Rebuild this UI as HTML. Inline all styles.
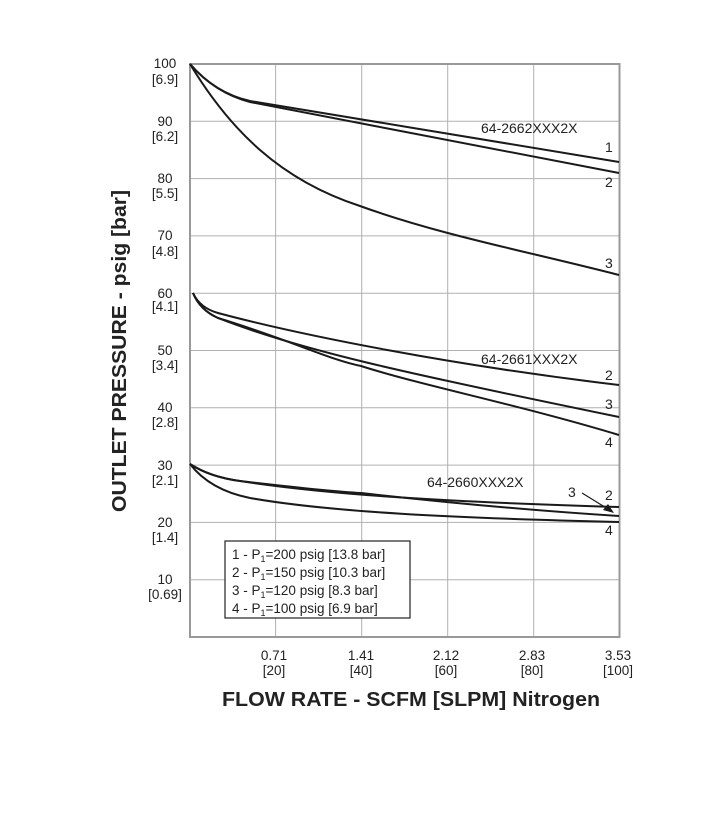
<!DOCTYPE html>
<html><head><style>
body{margin:0;background:#fff;}
svg text{font-family:"Liberation Sans",Arial,sans-serif;fill:#222;}
</style></head><body>
<svg width="712" height="833" viewBox="0 0 712 833" xmlns="http://www.w3.org/2000/svg">
<g stroke="#b0b0b0" stroke-width="1">
<line x1="275.6" y1="64" x2="275.6" y2="637"/>
<line x1="361.7" y1="64" x2="361.7" y2="637"/>
<line x1="447.7" y1="64" x2="447.7" y2="637"/>
<line x1="533.7" y1="64" x2="533.7" y2="637"/>
<line x1="190" y1="121.3" x2="619" y2="121.3"/>
<line x1="190" y1="178.6" x2="619" y2="178.6"/>
<line x1="190" y1="235.9" x2="619" y2="235.9"/>
<line x1="190" y1="293.2" x2="619" y2="293.2"/>
<line x1="190" y1="350.5" x2="619" y2="350.5"/>
<line x1="190" y1="407.8" x2="619" y2="407.8"/>
<line x1="190" y1="465.1" x2="619" y2="465.1"/>
<line x1="190" y1="522.4" x2="619" y2="522.4"/>
<line x1="190" y1="579.7" x2="619" y2="579.7"/>
</g>
<rect x="190" y="64" width="429.5" height="573" fill="none" stroke="#999" stroke-width="2"/>
<g fill="none" stroke="#1a1a1a" stroke-width="2">
<path d="M190,64 Q215,93 250,101 L619,162"/>
<path d="M190,64 Q215,93 250,102 L619,173"/>
<path d="M190,64 C230,130 280,180 360,206 C440,235 530,252 619,275"/>
<path d="M193,293 Q200,308 218,313 C300,335 450,365 619,385"/>
<path d="M193,293 Q200,310 218,318 C300,350 400,372 619,417"/>
<path d="M193,293 Q200,310 218,318 C290,340 330,360 361,366 C420,385 520,405 619,435"/>
<path d="M190,464 Q210,477 240,481 C330,495 450,502 619,507"/>
<path d="M190,464 Q210,477 240,481 C300,488 340,492 361,493 C450,503 540,511 619,516"/>
<path d="M190,464 Q210,490 250,498 C330,512 450,518 619,522"/>
</g>
<line x1="582" y1="493" x2="608" y2="509" stroke="#1a1a1a" stroke-width="1.2"/>
<polygon points="614,513 603,510 608,504" fill="#1a1a1a"/>
<g font-size="14">
<text x="481" y="133">64-2662XXX2X</text>
<text x="605" y="152">1</text><text x="605" y="187">2</text><text x="605" y="268">3</text>
<text x="481" y="364">64-2661XXX2X</text>
<text x="605" y="380">2</text><text x="605" y="409">3</text><text x="605" y="447">4</text>
<text x="427" y="487">64-2660XXX2X</text>
<text x="568" y="497">3</text><text x="605" y="500">2</text><text x="605" y="535">4</text>
</g>
<rect x="225" y="541" width="185" height="77" fill="#fff" stroke="#222" stroke-width="1.2"/>
<g font-size="13.5">
<text x="232" y="559">1 - P<tspan font-size="9" dy="3">1</tspan><tspan dy="-3">=200 psig [13.8 bar]</tspan></text>
<text x="232" y="577">2 - P<tspan font-size="9" dy="3">1</tspan><tspan dy="-3">=150 psig [10.3 bar]</tspan></text>
<text x="232" y="595">3 - P<tspan font-size="9" dy="3">1</tspan><tspan dy="-3">=120 psig [8.3 bar]</tspan></text>
<text x="232" y="613">4 - P<tspan font-size="9" dy="3">1</tspan><tspan dy="-3">=100 psig [6.9 bar]</tspan></text>
</g>
<g font-size="13.5" text-anchor="middle">
<text x="165" y="68">100</text><text x="165" y="84">[6.9]</text>
<text x="165" y="126">90</text><text x="165" y="141">[6.2]</text>
<text x="165" y="183">80</text><text x="165" y="198">[5.5]</text>
<text x="165" y="240">70</text><text x="165" y="256">[4.8]</text>
<text x="165" y="298">60</text><text x="165" y="311">[4.1]</text>
<text x="165" y="355">50</text><text x="165" y="370">[3.4]</text>
<text x="165" y="412">40</text><text x="165" y="427">[2.8]</text>
<text x="165" y="470">30</text><text x="165" y="485">[2.1]</text>
<text x="165" y="527">20</text><text x="165" y="542">[1.4]</text>
<text x="165" y="584">10</text><text x="165" y="599">[0.69]</text>
<text x="274" y="660">0.71</text><text x="274" y="675">[20]</text>
<text x="361" y="660">1.41</text><text x="361" y="675">[40]</text>
<text x="446" y="660">2.12</text><text x="446" y="675">[60]</text>
<text x="532" y="660">2.83</text><text x="532" y="675">[80]</text>
<text x="618" y="660">3.53</text><text x="618" y="675">[100]</text>
</g>
<text x="411" y="706" font-size="20" font-weight="bold" text-anchor="middle" textLength="378" lengthAdjust="spacingAndGlyphs">FLOW RATE - SCFM [SLPM] Nitrogen</text>
<text transform="translate(126,351) rotate(-90)" font-size="20" font-weight="bold" text-anchor="middle" textLength="322" lengthAdjust="spacingAndGlyphs">OUTLET PRESSURE - psig [bar]</text>
</svg>
</body></html>
